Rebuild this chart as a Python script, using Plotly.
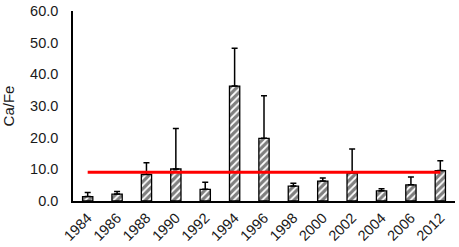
import plotly.graph_objects as go

years = ["1984", "1986", "1988", "1990", "1992", "1994", "1996",
         "1998", "2000", "2002", "2004", "2006", "2012"]
ca_fe = [1.4, 2.2, 8.4, 10.1, 3.7, 36.3, 19.8, 4.7, 6.3, 8.9, 3.2, 5.1, 9.6]
err_plus = [1.3, 0.8, 3.7, 12.8, 2.2, 11.9, 13.4, 0.9, 1.0, 7.5, 0.7, 2.5, 3.1]
mean_value = 9.05
y_ticks = [0, 10, 20, 30, 40, 50, 60]

fig = go.Figure()
fig.add_trace(go.Bar(
    x=years, y=ca_fe,
    width=0.35,
    marker=dict(color="white",
                line=dict(color="black", width=1.3),
                pattern=dict(shape="/", fgcolor="black", bgcolor="white",
                             size=5, solidity=0.65)),
    error_y=dict(type="data", array=err_plus, symmetric=False,
                 arrayminus=[0] * len(years),
                 color="black", thickness=1.5, width=3),
    showlegend=False,
))
fig.add_trace(go.Scatter(
    x=[years[0], years[-1]], y=[mean_value, mean_value],
    mode="lines", line=dict(color="#ff0000", width=3),
    showlegend=False,
))

fig.update_layout(
    width=459, height=247,
    margin=dict(l=73, r=4, t=11, b=46),
    paper_bgcolor="white", plot_bgcolor="white",
    font=dict(family="Liberation Sans, Arial, sans-serif", size=14, color="#1a1a1a"),
)
fig.update_xaxes(
    type="category", showline=True, linecolor="black", linewidth=1.5,
    ticks="", tickangle=-45, tickfont=dict(size=14.5), showgrid=False,
    automargin=False, ticklabelstandoff=1,
)
fig.update_yaxes(
    range=[0, 60], tickvals=y_ticks, tickformat=".1f",
    showline=True, linecolor="black", linewidth=1.5,
    ticks="", showgrid=False, zeroline=False,
    title=dict(text="Ca/Fe", standoff=16, font=dict(size=15)),
    tickfont=dict(size=14.5), automargin=False, ticklabelstandoff=10,
)

fig.write_html("out.html", config={"displayModeBar": False},
               post_script="document.body.style.margin='0';document.body.style.overflow='hidden';")
